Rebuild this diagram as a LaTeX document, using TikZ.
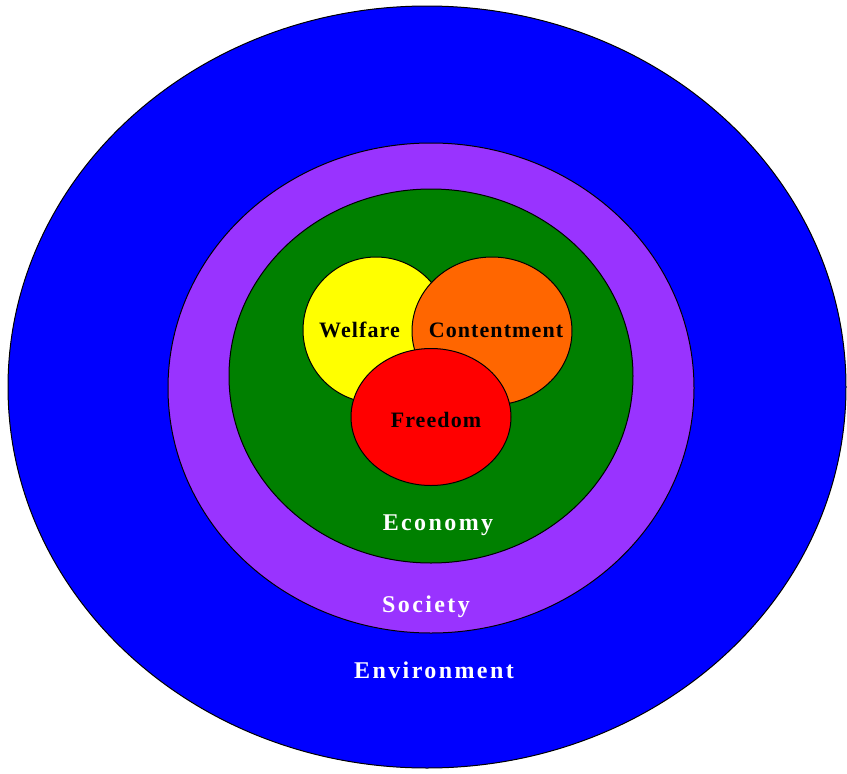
\documentclass[tikz,border=0pt]{standalone}
\usepackage{fontspec}
\setmainfont{Liberation Serif}
\newfontfamily\innerfont[LetterSpace=5]{Liberation Serif}
\newfontfamily\outerfont[LetterSpace=10]{Liberation Serif}
\usetikzlibrary{shapes.geometric}
\definecolor{cblue}{HTML}{0000FF}
\definecolor{cpurple}{HTML}{9933FF}
\definecolor{cgreen}{HTML}{008000}
\definecolor{cyellow}{HTML}{FFFF00}
\definecolor{corange}{HTML}{FF6600}
\definecolor{cred}{HTML}{FF0000}
\tikzset{
  ring/.style={ellipse, draw=black, line width=1pt, inner sep=0pt},
  innerlab/.style={anchor=base, inner sep=0pt, text=black, font=\innerfont\bfseries\fontsize{22}{26}\selectfont},
  outerlab/.style={anchor=base, inner sep=0pt, text=white, font=\outerfont\bfseries\fontsize{24}{28}\selectfont}
}
\begin{document}
\begin{tikzpicture}[x=1pt,y=-1pt]
\useasboundingbox (0,0) rectangle (847,774);
\clip (0,0) rectangle (847,774);
\node[ring, fill=cblue, minimum width=838pt, minimum height=762pt] (env) at (427,387) {};
\node[ring, fill=cpurple, minimum width=526pt, minimum height=490pt] (soc) at (431,388) {};
\node[ring, fill=cgreen, minimum width=404pt, minimum height=374pt] (eco) at (431,376) {};
\node[ring, fill=cyellow, minimum width=146pt, minimum height=146pt] (wel) at (376,330) {};
\node[ring, fill=corange, minimum width=160pt, minimum height=148pt] (con) at (492,331) {};
\node[ring, fill=cred, minimum width=160pt, minimum height=137pt] (fre) at (431,417) {};
\node[innerlab] (twel) at (359.5,337) {Welfare};
\node[innerlab] (tcon) at (496,337) {Contentment};
\node[innerlab] (tfre) at (436,427) {Freedom};
\node[outerlab] (teco) at (438,530) {Economy};
\node[outerlab] (tsoc) at (426,612) {Society};
\node[outerlab] (tenv) at (434,678) {Environment};
\end{tikzpicture}
\end{document}
